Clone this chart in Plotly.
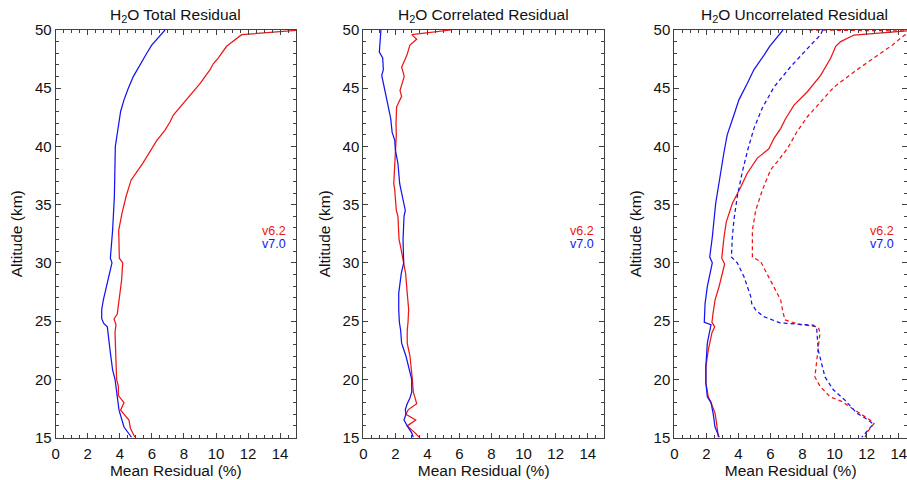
import plotly.graph_objects as go

# ---------------- data (Mean Residual %, Altitude km) ----------------
# Panel 1: Total residual
tot_v62_x = [15.3, 11.6, 10.66, 10.15, 9.83, 9.63, 9.0, 8.17, 7.34, 7.13, 6.82, 6.30, 5.68, 5.43, 4.7, 4.39, 4.14, 3.93, 3.97, 4.18, 4.11, 3.93, 3.84, 3.64, 3.76, 3.70, 3.80, 3.91, 3.91, 4.26, 4.05, 4.57, 4.66, 4.95]
tot_v62_y = [50.0, 49.6, 48.6, 47.6, 47.1, 46.6, 45.4, 44.0, 42.7, 42.1, 41.4, 40.5, 39.1, 38.55, 37.1, 35.7, 34.3, 32.8, 30.4, 30.0, 28.5, 26.8, 25.6, 25.2, 24.7, 24.0, 20.0, 19.4, 18.6, 18.0, 17.35, 16.5, 15.8, 15.0]
tot_v70_x = [6.82, 5.99, 5.68, 4.84, 4.53, 4.26, 4.05, 3.93, 3.80, 3.72, 3.70, 3.66, 3.55, 3.41, 3.51, 3.24, 2.97, 2.87, 2.87, 3.00, 3.22, 3.39, 3.55, 3.70, 3.84, 3.95, 4.26, 4.74]
tot_v70_y = [50.0, 48.7, 48.0, 46.0, 45.0, 44.0, 43.0, 42.0, 41.0, 40.0, 38.55, 35.7, 32.8, 30.4, 30.0, 28.5, 26.8, 26.0, 25.2, 24.8, 24.5, 22.5, 20.8, 20.0, 18.4, 17.35, 15.9, 15.0]

# Panel 2: Correlated residual
cor_v62_x = [5.47, 3.02, 3.33, 2.91, 2.71, 2.60, 2.39, 2.50, 2.55, 2.29, 2.39, 2.08, 2.04, 2.06, 2.00, 1.96, 1.90, 1.96, 2.06, 2.16, 2.23, 2.31, 2.52, 2.64, 2.74, 2.83, 2.79, 2.74, 2.74, 2.91, 3.06, 3.12, 3.23, 3.33, 2.81, 2.66, 3.27, 2.74, 3.23, 3.50]
cor_v62_y = [50.0, 49.6, 49.2, 48.7, 47.8, 47.4, 46.8, 46.3, 46.0, 44.8, 44.3, 43.4, 42.0, 41.0, 39.7, 38.55, 36.8, 36.3, 34.5, 34.0, 32.0, 31.5, 30.0, 29.1, 27.4, 26.0, 24.9, 24.2, 23.1, 22.0, 20.0, 18.9, 18.4, 17.9, 17.4, 17.0, 16.5, 16.0, 15.4, 15.0]
cor_v70_x = [1.10, 1.00, 1.21, 1.25, 1.15, 1.42, 1.56, 1.71, 1.80, 1.96, 2.00, 2.16, 2.27, 2.62, 2.54, 2.48, 2.52, 2.37, 2.21, 2.21, 2.25, 2.33, 2.39, 2.66, 3.02, 3.02, 2.91, 2.74, 2.62, 2.66, 2.54, 2.74, 3.02, 3.12]
cor_v70_y = [50.0, 48.1, 47.6, 46.6, 46.1, 44.5, 43.4, 42.4, 41.2, 40.55, 39.7, 38.55, 36.8, 34.5, 34.0, 32.0, 30.0, 29.1, 27.4, 26.0, 24.9, 24.2, 23.1, 22.0, 20.0, 18.9, 18.4, 17.9, 17.4, 17.0, 16.5, 16.0, 15.4, 15.0]

# Panel 3: Uncorrelated residual (solid = one estimate, dashed = another)
unc_v62_x = [15.3, 11.21, 10.38, 10.07, 9.76, 9.55, 9.13, 8.30, 7.47, 6.95, 6.64, 6.22, 5.90, 5.18, 4.55, 4.14, 3.62, 3.24, 3.10, 2.96, 3.14, 2.79, 2.54, 2.41, 2.35, 2.52, 2.35, 2.12, 1.97, 1.97, 2.12, 2.29, 2.54, 2.64, 2.75]
unc_v62_y = [50.0, 49.57, 49.0, 48.6, 47.6, 47.1, 46.1, 44.7, 43.55, 42.4, 41.55, 40.7, 39.8, 39.0, 37.7, 36.5, 35.1, 33.5, 32.2, 30.4, 29.9, 27.95, 26.8, 25.6, 24.9, 24.5, 24.0, 22.5, 21.1, 19.7, 18.5, 18.0, 17.1, 16.2, 15.0]
unc_v70_x = [6.78, 6.22, 5.95, 5.60, 4.97, 4.55, 4.03, 3.72, 3.30, 3.10, 2.90, 2.58, 2.37, 2.21, 2.37, 2.06, 1.92, 1.85, 1.87, 2.29, 2.06, 1.97, 1.97, 2.06, 2.29, 2.43, 2.54, 2.81]
unc_v70_y = [50.0, 49.1, 48.6, 47.85, 46.6, 45.4, 44.0, 42.7, 41.0, 39.5, 37.8, 35.1, 32.2, 30.5, 30.0, 27.95, 26.5, 25.1, 24.9, 24.7, 23.1, 21.1, 19.7, 18.5, 18.0, 17.0, 15.9, 15.0]
unc2_v62_x = [8.4, 14.5, 16.0, 15.2, 14.36, 13.6, 12.46, 11.21, 9.96, 9.13, 8.30, 7.67, 7.05, 6.43, 6.01, 5.49, 5.08, 4.87, 4.87, 5.39, 6.11, 6.64, 6.76, 6.90, 7.84, 8.98, 9.09, 8.98, 8.88, 8.77, 9.09, 9.71, 10.44, 11.58, 12.21, 12.46, 12.25, 12.0, 11.9]
unc2_v62_y = [50.0, 49.95, 49.9, 49.75, 49.57, 48.7, 47.6, 46.4, 45.1, 43.8, 42.55, 41.3, 39.8, 38.7, 38.0, 36.25, 34.5, 32.8, 30.5, 30.1, 28.2, 26.8, 25.9, 25.1, 24.7, 24.5, 24.0, 22.5, 21.7, 20.2, 19.4, 18.5, 18.1, 17.1, 16.5, 16.2, 15.8, 15.4, 15.0]
unc2_v70_x = [9.25, 9.13, 8.30, 7.26, 6.22, 5.49, 4.97, 4.60, 4.24, 3.93, 3.72, 3.62, 3.56, 3.93, 4.35, 4.77, 4.83, 5.08, 5.55, 6.59, 8.67, 8.88, 8.98, 9.19, 9.40, 9.92, 10.65, 11.38, 12.10, 12.41, 12.00, 11.69]
unc2_v70_y = [50.0, 49.6, 48.4, 46.85, 45.1, 43.3, 41.55, 39.8, 37.8, 35.7, 33.7, 32.2, 30.5, 30.0, 28.8, 27.1, 26.5, 25.95, 25.4, 24.85, 24.65, 24.4, 22.5, 21.4, 20.2, 19.1, 18.2, 17.1, 16.5, 16.15, 15.5, 15.0]

titles = ["H<sub>2</sub>O Total Residual", "H<sub>2</sub>O Correlated Residual", "H<sub>2</sub>O Uncorrelated Residual"]
x_title = "Mean Residual (%)"
y_title = "Altitude (km)"
legend_labels = ["v6.2", "v7.0"]

RED = "#f01414"
BLUE = "#1414f0"
FONT = "Liberation Sans, Arial, sans-serif"
W, H = 907, 480

# panel pixel geometry (left, right) ; right of panel 3 lies beyond the canvas
px_per_unit = 16.03
panels = [(55.7, 296.0), (363.3, 604.0), (674.3, 907.0)]
y_top, y_bot = 30.0, 437.5

fig = go.Figure()

def add(xs, ys, color, n, dash="solid"):
    fig.add_trace(go.Scatter(x=xs, y=ys, mode="lines",
                             line=dict(color=color, width=1.25, dash=dash),
                             xaxis="x" if n == 1 else f"x{n}",
                             yaxis="y" if n == 1 else f"y{n}",
                             showlegend=False, hoverinfo="skip"))

add(tot_v62_x, tot_v62_y, RED, 1)
add(tot_v70_x, tot_v70_y, BLUE, 1)
add(cor_v62_x, cor_v62_y, RED, 2)
add(cor_v70_x, cor_v70_y, BLUE, 2)
add(unc_v62_x, unc_v62_y, RED, 3)
add(unc_v70_x, unc_v70_y, BLUE, 3)
add(unc2_v62_x, unc2_v62_y, RED, 3, dash="4px,3px")
add(unc2_v70_x, unc2_v70_y, BLUE, 3, dash="4px,3px")

ydom = [(H - y_bot) / H, (H - y_top) / H]
axis_common = dict(showline=True, linecolor="#404040", linewidth=1, mirror="allticks",
                   ticks="inside", ticklen=5, tickwidth=1, tickcolor="#404040",
                   showgrid=False, zeroline=False, automargin=False,
                   ticklabeloverflow="allow",
                   tickfont=dict(family=FONT, size=15, color="#111"),
                   title_font=dict(family=FONT, size=15.5, color="#111"))
minor_common = dict(ticks="inside", ticklen=3, tickwidth=1, tickcolor="#404040", showgrid=False)

layout = dict(width=W, height=H, margin=dict(l=0, r=0, t=0, b=0, autoexpand=False),
              paper_bgcolor="white", plot_bgcolor="white",
              font=dict(family=FONT, size=15, color="#111"), annotations=[])

for i, (l, r) in enumerate(panels):
    n = i + 1
    xk = "xaxis" if n == 1 else f"xaxis{n}"
    yk = "yaxis" if n == 1 else f"yaxis{n}"
    xr = (r - l) / px_per_unit
    layout[xk] = dict(axis_common, domain=[l / W, r / W], range=[0, xr],
                      tickmode="array", tickvals=[0, 2, 4, 6, 8, 10, 12, 14],
                      ticklabelstandoff=2,
                      minor=dict(minor_common, tickmode="array",
                                 tickvals=[v * 0.5 for v in range(0, 31)]),
                      anchor="y" if n == 1 else f"y{n}",
                      title=dict(text=x_title, standoff=4))
    layout[yk] = dict(axis_common, domain=ydom, range=[15, 50],
                      tickmode="array", tickvals=[15, 20, 25, 30, 35, 40, 45, 50],
                      minor=dict(minor_common, tickmode="array", tickvals=list(range(15, 51))),
                      anchor="x" if n == 1 else f"x{n}",
                      title=dict(text=y_title, standoff=8))
    # panel title centred over the full (0-15) panel
    full_r = l + 15 * px_per_unit
    layout["annotations"].append(dict(text=titles[i], x=(l + full_r) / 2 / W, y=1 - 16 / H,
                                      xref="paper", yref="paper", showarrow=False,
                                      xanchor="center", yanchor="middle",
                                      font=dict(family=FONT, size=15.5, color="#111")))

legend_right = [288, 596, 896]
for i, xr_px in enumerate(legend_right):
    for j, (lab, col) in enumerate(zip(legend_labels, [RED, BLUE])):
        layout["annotations"].append(dict(text=lab, x=xr_px / W, y=1 - (231 + 13 * j) / H,
                                          xref="paper", yref="paper", showarrow=False,
                                          xanchor="right", yanchor="middle",
                                          font=dict(family=FONT, size=12.5, color=col)))

fig.update_layout(**layout)
fig.write_html("out.html")
